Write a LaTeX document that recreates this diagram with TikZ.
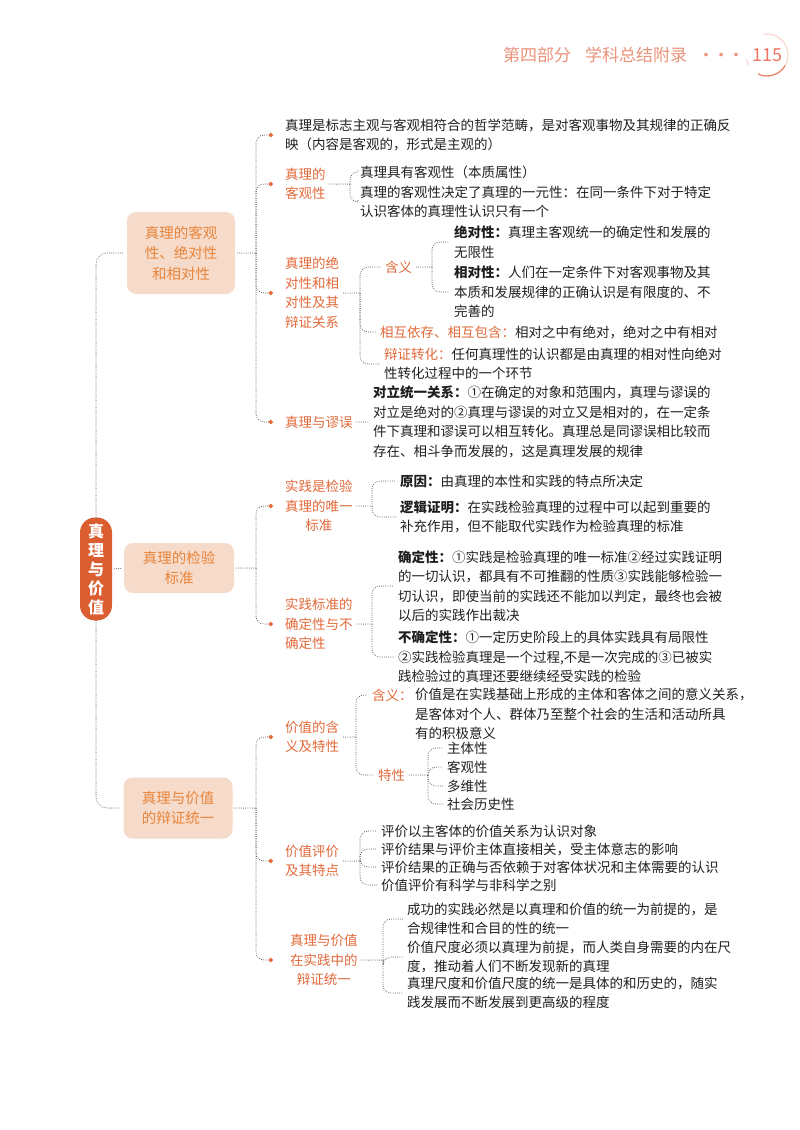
\documentclass[tikz,border=0pt]{standalone}
\usepackage{fontspec}
\setmainfont{Noto Sans CJK SC}
\usetikzlibrary{arrows.meta}
\definecolor{rootred}{HTML}{DA5E30}
\definecolor{labelred}{HTML}{E2693A}
\definecolor{topicfill}{HTML}{F6DACA}
\definecolor{topictext}{HTML}{E8853B}
\definecolor{headtext}{HTML}{EA9279}
\definecolor{linkgray}{HTML}{444444}
\definecolor{ink}{HTML}{1F1F1F}
\begin{document}
\begin{tikzpicture}[x=1pt, y=-1pt, line join=round,
	link/.style={draw=linkgray, line width=1pt, dash pattern=on 0pt off 2.2pt, line cap=round, rounded corners=8pt},
	dotend/.style={-{Circle[length=4.5pt, color=labelred]}, shorten >=10pt},
	rootbox/.style={fill=rootred, rounded corners=15pt, minimum width=32pt, minimum height=103pt, inner sep=0pt, text=white, align=center, font=\fontsize{16}{19}\selectfont\bfseries},
	topic/.style={fill=topicfill, rounded corners=9pt, inner sep=0pt, text=topictext, align=center, font=\fontsize{14.5}{20.5}\selectfont},
	sublabel/.style={anchor=west, inner xsep=2pt, inner ysep=1pt, text=labelred, align=left, font=\fontsize{13.5}{19.5}\selectfont},
	leaf/.style={anchor=west, inner xsep=2pt, inner ysep=1pt, text=ink, align=left, font=\fontsize{13.5}{19.5}\selectfont}]
		\useasboundingbox (0,0) rectangle (800,1130);
		% page header
		\node[anchor=west, inner sep=0pt, text=headtext, font=\fontsize{17}{18}\selectfont] (head) at (503,55) {第四部分\hspace{14pt}学科总结附录\hspace{17pt}\makebox[4pt]{·}\hspace{11pt}\makebox[4pt]{·}\hspace{11pt}\makebox[4pt]{·}};
		\node[inner sep=0pt, text=headtext!80!red, font=\fontsize{18}{18}\selectfont] (page) at (767,55) {115};
		\draw[headtext!40, line width=1.1pt] (page.center) ++(-100:21) arc[start angle=-100, end angle=30, radius=21];
		\draw[headtext!90!red, line width=1.3pt] (page.center) ++(30:21) arc[start angle=30, end angle=115, radius=21];
		\draw[headtext!40, line width=1pt] (page.center) ++(150:21) arc[start angle=150, end angle=168, radius=21];
		% root and topics
		\node[rootbox] (root) at (96,569) {真\\理\\与\\价\\值};
		\node[topic, minimum width=108pt, minimum height=82pt] (t1) at (181,253) {真理的客观\\性、绝对性\\和相对性};
		\node[topic, minimum width=110pt, minimum height=50pt] (t2) at (179,568) {真理的检验\\标准};
		\node[topic, minimum width=109pt, minimum height=61pt] (t3) at (178,808) {真理与价值\\的辩证统一};
		\draw[link, rounded corners=11pt, shorten >=3pt] (root.north) |- (t1.west);
		\draw[link, shorten <=2pt, shorten >=2pt] (root.east) -- (t2.west);
		\draw[link, rounded corners=11pt, shorten >=3pt] (root.south) |- (t3.west);
		% topic 1
		\coordinate (ta) at (256,253);
		\node[leaf] (a1) at (283,135) {真理是标志主观与客观相符合的哲学范畴，是对客观事物及其规律的正确反\\映（内容是客观的，形式是主观的）};
		\node[sublabel] (a2) at (283,184) {真理的\\客观性};
		\node[leaf] (a21) at (358,172) {真理具有客观性（本质属性）};
		\node[leaf] (a22) at (358,202) {真理的客观性决定了真理的一元性：在同一条件下对于特定\\认识客体的真理性认识只有一个};
		\node[sublabel] (a3) at (283,293) {真理的绝\\对性和相\\对性及其\\辩证关系};
		\node[sublabel] (a31) at (383,267) {含义};
		\node[leaf] (a311) at (452,242) {\textbf{绝对性：}真理主客观统一的确定性和发展的\\无限性};
		\node[leaf] (a312) at (452,292) {\textbf{相对性：}人们在一定条件下对客观事物及其\\本质和发展规律的正确认识是有限度的、不\\完善的};
		\node[leaf] (a32) at (378,332) {\textcolor{labelred}{相互依存、相互包含：}相对之中有绝对，绝对之中有相对};
		\node[leaf] (a33) at (382,364) {\textcolor{labelred}{辩证转化：}任何真理性的认识都是由真理的相对性向绝对\\性转化过程中的一个环节};
		\node[sublabel] (a4) at (283,422) {真理与谬误};
		\node[leaf] (a41) at (371,422) {\textbf{对立统一关系：}①在确定的对象和范围内，真理与谬误的\\对立是绝对的②真理与谬误的对立又是相对的，在一定条\\件下真理和谬误可以相互转化。真理总是同谬误相比较而\\存在、相斗争而发展的，这是真理发展的规律};
		\coordinate (a2j) at (350,184);
		\coordinate (a3j) at (360,293);
		\coordinate (a31j) at (432,267);
		\draw[link, shorten <=2pt] (t1.east) -- (ta);
		\draw[link, dotend] (ta) |- (a1.west);
		\draw[link, dotend] (ta) |- (a2.west);
		\draw[link, dotend] (ta) |- (a3.west);
		\draw[link, dotend] (ta) |- (a4.west);
		\draw[link, shorten <=2pt] (a2.east) -- (a2j);
		\draw[link, shorten >=2pt] (a2j) |- (a21.west);
		\draw[link, shorten >=2pt] (a2j) |- (a22.west);
		\draw[link, shorten <=2pt] (a3.east) -- (a3j);
		\draw[link, shorten >=2pt] (a3j) |- (a31.west);
		\draw[link, shorten >=2pt] (a3j) |- (a32.west);
		\draw[link, shorten >=2pt] (a3j) |- (a33.west);
		\draw[link, shorten <=2pt] (a31.east) -- (a31j);
		\draw[link, shorten >=2pt] (a31j) |- (a311.west);
		\draw[link, shorten >=2pt] (a31j) |- (a312.west);
		\draw[link, shorten <=2pt, shorten >=2pt] (a4.east) -- (a41.west);
		% topic 2
		\coordinate (tb) at (256,568);
		\node[sublabel, align=center] (b1) at (283,506) {实践是检验\\真理的唯一\\标准};
		\node[sublabel] (b2) at (283,624) {实践标准的\\确定性与不\\确定性};
		\node[leaf] (b11) at (398,481) {\textbf{原因：}由真理的本性和实践的特点所决定};
		\node[leaf] (b12) at (398,517) {\textbf{逻辑证明：}在实践检验真理的过程中可以起到重要的\\补充作用，但不能取代实践作为检验真理的标准};
		\node[leaf] (b21) at (396,586) {\textbf{确定性：}①实践是检验真理的唯一标准②经过实践证明\\的一切认识，都具有不可推翻的性质③实践能够检验一\\切认识，即使当前的实践还不能加以判定，最终也会被\\以后的实践作出裁决};
		\node[leaf] (b22) at (396,657) {\textbf{不确定性：}①一定历史阶段上的具体实践具有局限性\\②实践检验真理是一个过程,不是一次完成的③已被实\\践检验过的真理还要继续经受实践的检验};
		\coordinate (b1j) at (372,506);
		\coordinate (b2j) at (372,624);
		\draw[link, shorten <=2pt] (t2.east) -- (tb);
		\draw[link, dotend] (tb) |- (b1.west);
		\draw[link, dotend] (tb) |- (b2.west);
		\draw[link, shorten <=2pt] (b1.east) -- (b1j);
		\draw[link, shorten >=2pt] (b1j) |- (b11.west);
		\draw[link, shorten >=2pt] (b1j) |- (b12.west);
		\draw[link, shorten <=2pt] (b2.east) -- (b2j);
		\draw[link, shorten >=2pt] (b2j) |- (b21.west);
		\draw[link, shorten >=2pt] (b2j) |- (b22.west);
		% topic 3
		\coordinate (tc) at (256,808);
		\node[sublabel] (c1) at (283,737) {价值的含\\义及特性};
		\node[sublabel] (c11) at (370,695) {含义：};
		\node[leaf] (c11t) at (413,714) {价值是在实践基础上形成的主体和客体之间的意义关系，\\是客体对个人、群体乃至整个社会的生活和活动所具\\有的积极意义};
		\node[sublabel] (c12) at (376,775) {特性};
		\node[leaf] (c121) at (445,748) {主体性};
		\node[leaf] (c122) at (445,767) {客观性};
		\node[leaf] (c123) at (445,786) {多维性};
		\node[leaf] (c124) at (445,804) {社会历史性};
		\node[sublabel] (c2) at (283,861) {价值评价\\及其特点};
		\node[leaf] (c21) at (379,831) {评价以主客体的价值关系为认识对象};
		\node[leaf] (c22) at (379,849) {评价结果与评价主体直接相关，受主体意志的影响};
		\node[leaf] (c23) at (379,867) {评价结果的正确与否依赖于对客体状况和主体需要的认识};
		\node[leaf] (c24) at (379,885) {价值评价有科学与非科学之别};
		\node[sublabel, align=center] (c3) at (288,960) {真理与价值\\在实践中的\\辩证统一};
		\node[leaf] (c31) at (405,919) {成功的实践必然是以真理和价值的统一为前提的，是\\合规律性和合目的性的统一};
		\node[leaf] (c32) at (405,957) {价值尺度必须以真理为前提，而人类自身需要的内在尺\\度，推动着人们不断发现新的真理};
		\node[leaf] (c33) at (405,993) {真理尺度和价值尺度的统一是具体的和历史的，随实\\践发展而不断发展到更高级的程度};
		\coordinate (c1j) at (356,737);
		\coordinate (c12j) at (428,775);
		\coordinate (c2j) at (360,861);
		\coordinate (c3j) at (383,960);
		\draw[link, shorten <=2pt] (t3.east) -- (tc);
		\draw[link, dotend] (tc) |- (c1.west);
		\draw[link, dotend] (tc) |- (c2.west);
		\draw[link, dotend, shorten >=15pt] (tc) |- (c3.west);
		\draw[link, shorten <=2pt] (c1.east) -- (c1j);
		\draw[link, shorten >=2pt] (c1j) |- (c11.west);
		\draw[link, shorten >=2pt] (c1j) |- (c12.west);
		\draw[link, shorten <=2pt] (c12.east) -- (c12j);
		\draw[link, shorten >=2pt] (c12j) |- (c121.west);
		\draw[link, shorten >=2pt] (c12j) |- (c122.west);
		\draw[link, shorten >=2pt] (c12j) |- (c123.west);
		\draw[link, shorten >=2pt] (c12j) |- (c124.west);
		\draw[link, shorten <=2pt] (c2.east) -- (c2j);
		\draw[link, shorten >=2pt] (c2j) |- (c21.west);
		\draw[link, shorten >=2pt] (c2j) |- (c22.west);
		\draw[link, shorten >=2pt] (c2j) |- (c23.west);
		\draw[link, shorten >=2pt] (c2j) |- (c24.west);
		\draw[link, shorten <=2pt] (c3.east) -- (c3j);
		\draw[link, shorten >=2pt] (c3j) |- (c31.west);
		\draw[link, shorten >=2pt] (c3j) |- (c32.west);
		\draw[link, shorten >=2pt] (c3j) |- (c33.west);
\end{tikzpicture}
\end{document}
